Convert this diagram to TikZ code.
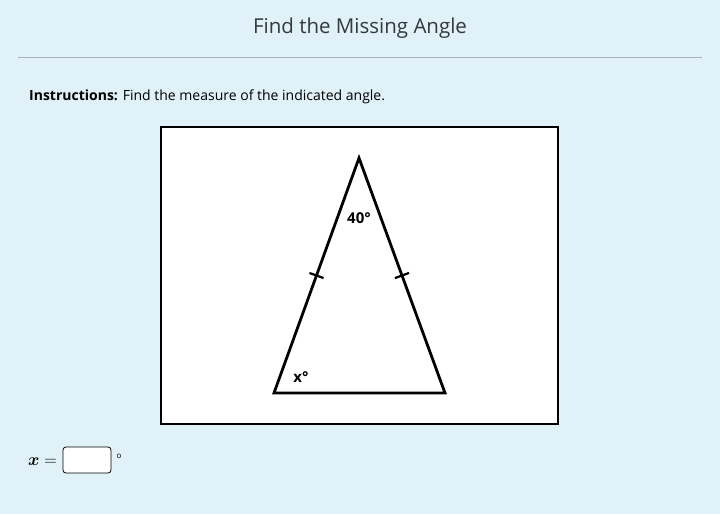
\documentclass[tikz,border=0pt]{standalone}
\usepackage{fontspec}
\setmainfont{Open Sans}
\usepackage{amsmath}
\usetikzlibrary{positioning}
\definecolor{pagebg}{HTML}{E0F1F8}
\definecolor{rulegray}{HTML}{A9B4BA}
\definecolor{titlegray}{HTML}{33393D}
\tikzset{
  side/.style={line width=2.8pt, line join=miter},
  tick/.style={sloped, draw, line width=2.2pt, minimum width=0pt, minimum height=15pt, inner sep=0pt},
  anglelabel/.style={font=\fontsize{15}{17}\selectfont\bfseries},
  answerbox/.style={draw, rounded corners=3pt, fill=white, minimum width=48pt, minimum height=26pt, line width=0.8pt}
}
\begin{document}
\begin{tikzpicture}[x=1pt,y=-1pt]
\useasboundingbox[fill=pagebg] (0,0) rectangle (720,514);
\node[text=titlegray, font=\fontsize{20.5}{24}\selectfont] (title) at (360,28) {Find the Missing Angle};
\draw[rulegray, line width=0.8pt] (18,57) -- (702,57);
\node[anchor=west, font=\fontsize{14}{17}\selectfont, inner sep=0pt] (instr) at (29,97) {\textbf{Instructions:} Find the measure of the indicated angle.};
% figure frame
\draw[line width=2.8pt, fill=white] (161,127) rectangle (558,424);
\coordinate (apex) at (359,158);
\coordinate (left) at (274,393);
\coordinate (right) at (445,393);
\draw[side] (apex) -- (left) -- (right) -- cycle;
\path (apex) -- node[tick]{} (left);
\path (right) -- node[tick]{} (apex);
\node[anglelabel] (top) at (359,218) {40°};
\node[anglelabel] (base) at (301,377) {x°};
% answer
\node[font=\fontsize{17}{20}\selectfont, anchor=east, inner sep=0pt] (xeq) at (57,462) {$\boldsymbol{x}=$};
\node[answerbox] (ans) at (87,460) {};
\node[font=\fontsize{8}{9}\selectfont, inner sep=0pt] (deg) at (119,456) {o};
\end{tikzpicture}
\end{document}
